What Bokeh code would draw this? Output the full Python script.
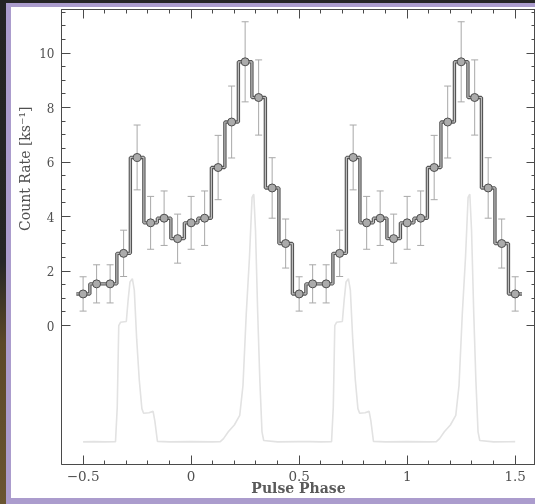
from bokeh.plotting import figure
from bokeh.models import (Range1d, FixedTicker, LinearAxis, Whisker, ColumnDataSource,
                          TeeHead, Spacer, CustomJSTickFormatter, Title)
from bokeh.layouts import column, row
from bokeh.embed import file_html
from bokeh.resources import INLINE

# ---------------- data ----------------
bin_width = 0.0625
# count rate per phase bin for one cycle, bins centred at phase 0, 0.0625, ...
cycle_phase = [0.0, 0.0625, 0.125, 0.1875, 0.25, 0.3125, 0.375, 0.4375,
               0.5, 0.5625, 0.625, 0.6875, 0.75, 0.8125, 0.875, 0.9375]
cycle_rate = [3.77, 3.94, 5.80, 7.47, 9.68, 8.37, 5.05, 3.01,
              1.16, 1.53, 1.53, 2.65, 6.17, 3.77, 3.94, 3.19]
cycle_err = [0.97, 1.00, 1.18, 1.32, 1.47, 1.38, 1.11, 0.90,
             0.63, 0.70, 0.70, 0.85, 1.19, 0.97, 1.00, 0.90]

# light grey pulse profile (one cycle from -0.5 to 0.5)
profile_phase = [-0.500, -0.450, -0.400, -0.350, -0.342, -0.335, -0.327, -0.300,
                 -0.292, -0.283, -0.272, -0.263, -0.252, -0.240, -0.228, -0.220,
                 -0.195, -0.176, -0.168, -0.156, -0.100, 0.000, 0.100, 0.135,
                 0.150, 0.172, 0.200, 0.225, 0.240, 0.255, 0.270, 0.282,
                 0.290, 0.298, 0.308, 0.318, 0.328, 0.336, 0.400, 0.500]
profile_value = [-4.27, -4.26, -4.27, -4.26, -3.00, 0.00, 0.12, 0.15,
                 0.90, 1.60, 1.72, 1.30, -0.50, -2.00, -3.05, -3.22,
                 -3.20, -3.15, -3.50, -4.25, -4.27, -4.26, -4.27, -4.26,
                 -4.15, -3.90, -3.65, -3.30, -2.20, 0.40, 2.50, 4.70,
                 4.82, 3.50, 0.50, -2.00, -3.90, -4.22, -4.27, -4.26]

x_major = [-0.5, 0.0, 0.5, 1.0, 1.5]
x_major_labels = ["\u22120.5", "0", "0.5", "1", "1.5"]
y_major = [0, 2, 4, 6, 8, 10]
y_major_labels = ["0", "2", "4", "6", "8", "10"]

x_label = "Pulse Phase"
y_label = "Count Rate [ks\u207b\u00b9]"

# ---------------- build series over two cycles ----------------
ph, rate, err = [], [], []
for off in (-1, 0, 1):
    for c, r, e in zip(cycle_phase, cycle_rate, cycle_err):
        x = c + off
        if -0.5 - 1e-9 <= x <= 1.5 + 1e-9:
            ph.append(x); rate.append(r); err.append(e)
order = sorted(range(len(ph)), key=lambda i: ph[i])
ph = [ph[i] for i in order]; rate = [rate[i] for i in order]; err = [err[i] for i in order]

half = bin_width / 2
step_x, step_y = [], []
for c, r in zip(ph, rate):
    step_x += [c - half, c + half]
    step_y += [r, r]

prof_x = list(profile_phase) + [q + 1 for q in profile_phase[1:]]
prof_y = list(profile_value) + list(profile_value[1:])

x_minor = [round(-0.5 + 0.1 * i, 2) for i in range(21) if i % 5 != 0]
y_minor = [0.5 * i for i in range(24) if i % 4 != 0]

# ---------------- figure ----------------
AX = "#4a4a4a"
TXT = "#505050"
p = figure(width=524, height=491, output_backend="svg", toolbar_location=None,
           x_range=Range1d(-0.6, 1.594), y_range=Range1d(-5.1, 11.6),
           min_border_left=50, min_border_right=0, min_border_top=2, min_border_bottom=34,
           background_fill_color="white", border_fill_color="white",
           outline_line_color=AX)
p.xgrid.visible = False
p.ygrid.visible = False

def style_axis(ax, ticks, minor):
    ax.ticker = FixedTicker(ticks=ticks, minor_ticks=minor)
    ax.axis_line_color = AX
    ax.major_tick_line_color = AX
    ax.minor_tick_line_color = AX
    ax.major_tick_in = 9
    ax.major_tick_out = 0
    ax.minor_tick_in = 4
    ax.minor_tick_out = 0

xa = p.xaxis[0]
style_axis(xa, x_major, x_minor)
xa.major_label_overrides = {t: l for t, l in zip(x_major, x_major_labels)}
xa.major_label_text_font = "DejaVu Serif"
xa.major_label_text_font_size = "13.5px"
xa.major_label_text_color = TXT
xa.major_label_standoff = 6
xa.axis_label = x_label
xa.axis_label_text_font = "DejaVu Serif"
xa.axis_label_text_font_size = "14px"
xa.axis_label_text_font_style = "bold"
xa.axis_label_text_color = "#5a5a5a"
xa.axis_label_standoff = -4

ya = p.yaxis[0]
style_axis(ya, y_major, y_minor)
ya.bounds = (0, 11.6)
ya.major_label_overrides = {t: l for t, l in zip(y_major, y_major_labels)}
ya.major_label_text_font = "DejaVu Serif"
ya.major_label_text_font_size = "12px"
ya.major_label_text_color = TXT
ya.major_label_standoff = 7

# y-axis title, placed along the positive part of the axis (as in the original)
ytitle = Title(text=y_label, align="right", offset=97, standoff=4,
               vertical_align="top",
               text_font="DejaVu Serif", text_font_size="14px",
               text_font_style="normal", text_color=TXT)
p.add_layout(ytitle, "left")

blank = CustomJSTickFormatter(code="return ''")
top = LinearAxis(formatter=blank, major_label_standoff=0, major_label_text_font_size="1px")
style_axis(top, x_major, x_minor)
p.add_layout(top, "above")
right = LinearAxis(formatter=blank, major_label_standoff=0, major_label_text_font_size="1px")
style_axis(right, y_major, y_minor)
p.add_layout(right, "right")

# light grey pulse profile
p.line(prof_x, prof_y, line_color="#e2e2e2", line_width=1.6)

# error bars
src = ColumnDataSource(dict(x=ph, y=rate,
                            upper=[r + e for r, e in zip(rate, err)],
                            lower=[r - e for r, e in zip(rate, err)]))
w = Whisker(base="x", upper="upper", lower="lower", source=src,
            line_color="#a8a8a8", line_width=1, level="underlay",
            upper_head=TeeHead(size=7, line_color="#a8a8a8", line_width=1),
            lower_head=TeeHead(size=7, line_color="#a8a8a8", line_width=1))
p.add_layout(w)

# step histogram (double-line look)
p.line(step_x, step_y, line_color="#555555", line_width=3.4)
p.line(step_x, step_y, line_color="#bdbdbd", line_width=1.2)
p.scatter("x", "y", source=src, size=8, marker="circle",
          fill_color="#ababab", line_color="#4d4d4d", line_width=1)

# ---------------- photo-like frame around the plot ----------------
DARK = {"background-color": "#252525"}
PURPLE = {"background-color": "#ab9ccd"}
GRAD = {"background": "linear-gradient(to bottom, #242424 0%, #262626 52%, #5b4828 68%, #6a5531 100%)"}

left_strip = Spacer(width=6, height=504, styles=GRAD)
purple_col = column(Spacer(width=5, height=3, styles=DARK),
                    Spacer(width=5, height=501, styles=PURPLE))
main_col = column(Spacer(width=524, height=3, styles=DARK),
                  Spacer(width=524, height=4, styles=PURPLE),
                  p,
                  Spacer(width=524, height=6, styles=PURPLE))
layout = row(left_strip, purple_col, main_col, width=535, height=504,
             styles={"position": "fixed", "top": "0px", "left": "0px"})

open("out.html", "w").write(file_html(layout, INLINE))
